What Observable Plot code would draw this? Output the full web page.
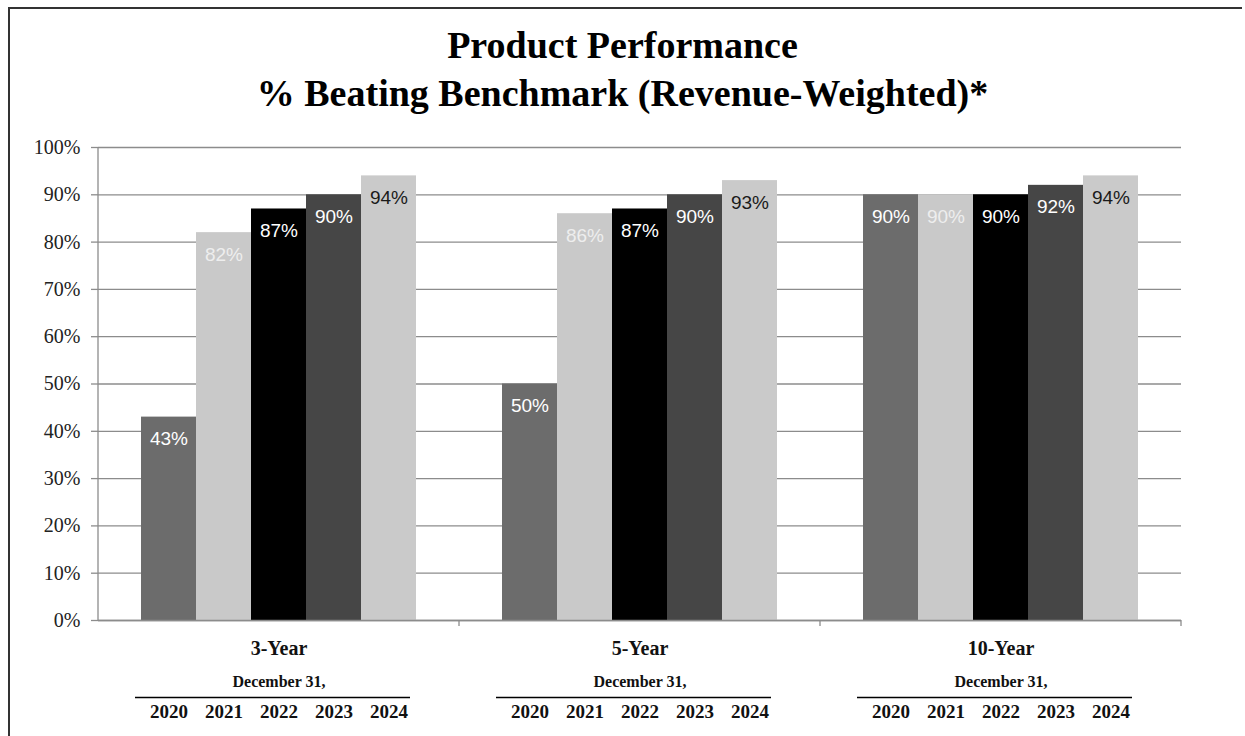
<!DOCTYPE html>
<html>
<head>
<meta charset="utf-8">
<script src="https://cdn.jsdelivr.net/npm/d3@7"></script>
<script src="https://cdn.jsdelivr.net/npm/@observablehq/plot@0.6"></script>
<style>
  body { margin: 0; background: #fff; }
  #wrap { position: relative; width: 1245px; height: 736px; overflow: hidden; font-family: "Liberation Serif", "Times New Roman", serif; background: #fff; }
  #border { position: absolute; left: 8px; top: 7px; width: 1232px; height: 760px; border-top: 2px solid #333; border-left: 2px solid #333; pointer-events: none; }
  #titles { position: relative; height: 120px; }
  .t { position: absolute; left: 0; width: 1245px; text-align: center; font-weight: bold; font-size: 38px; line-height: 40px; color: #000; }
  #chart svg { display: block; }
</style>
</head>
<body>
<div id="wrap">
  <div id="titles">
    <div class="t" style="top:25px">Product Performance</div>
    <div class="t" style="top:73px">% Beating Benchmark (Revenue-Weighted)*</div>
  </div>
  <div id="chart"></div>
  <div id="border"></div>
</div>
<script>
// ---- data ----
const groups = ["3-Year", "5-Year", "10-Year"];
const years = ["2020", "2021", "2022", "2023", "2024"];
const values3 = [43, 82, 87, 90, 94];
const values5 = [50, 86, 87, 90, 93];
const values10 = [90, 90, 90, 92, 94];
const yTicks = [0, 10, 20, 30, 40, 50, 60, 70, 80, 90, 100];
const subLabel = "December 31,";
const barColors = ["#6c6c6c", "#c9c9c9", "#000000", "#464646", "#cacaca"];
const labelColors = ["#ffffff", "#eeeeee", "#ffffff", "#ffffff", "#1a1a1a"];

const seriesByGroup = [values3, values5, values10];
const data = [];
groups.forEach((g, gi) => years.forEach((yr, yi) => data.push({group: g, year: yr, value: seriesByGroup[gi][yi]})));

const serif = "'Liberation Serif', 'Times New Roman', serif";
const sans = "'Liberation Sans', Lato, sans-serif";

const labelMarks = years.map((yr, i) =>
  Plot.text(data.filter(d => d.year === yr), {
    fx: "group", x: "year", y: "value",
    text: d => d.value + "%",
    dy: 22, lineAnchor: "middle",
    fill: labelColors[i], fontSize: 19, fontFamily: sans
  })
);

const chart = Plot.plot({
  width: 1245,
  height: 616,
  marginTop: 27,
  marginBottom: 116,
  marginLeft: 97,
  marginRight: 63,
  style: {fontFamily: serif, background: "transparent", color: "#111"},
  fx: {domain: groups, padding: 0, axis: null},
  x: {domain: years, paddingInner: 0, paddingOuter: 0.76, axis: null},
  y: {domain: [0, 100], axis: null},
  color: {type: "ordinal", domain: years, range: barColors},
  marks: [
    Plot.gridY(yTicks, {stroke: "#8c8c8c", strokeOpacity: 1, strokeWidth: 1.3}),
    Plot.axisY(yTicks, {
      label: null,
      tickFormat: d => d + "%", tickSize: 7, tickPadding: 11,
      fontSize: 20, fontFamily: serif, stroke: "#8c8c8c", fill: "#222", strokeWidth: 1.3
    }),
    Plot.barY(data, {fx: "group", x: "year", y: "value", fill: "year"}),
    ...labelMarks,
    Plot.ruleY([0], {stroke: "#8c8c8c", strokeWidth: 1.3}),
    Plot.text(groups, {fx: d => d, text: d => d, frameAnchor: "bottom", dy: 28, lineAnchor: "middle",
      fontWeight: "bold", fontSize: 20, fontFamily: serif, fill: "#111"}),
    Plot.text(groups, {fx: d => d, text: () => subLabel, frameAnchor: "bottom", dy: 61, lineAnchor: "middle",
      fontWeight: "bold", fontSize: 16, fontFamily: serif, fill: "#111"}),
    Plot.ruleY(groups, {fx: d => d, y: () => 0, x1: () => years[0], x2: () => years[years.length - 1],
      dy: 77, dx: -6, stroke: "#000", strokeWidth: 1.5}),
    Plot.text(data, {fx: "group", x: "year", text: "year", frameAnchor: "bottom", dy: 91, lineAnchor: "middle",
      fontWeight: "bold", fontSize: 19, fontFamily: serif, fill: "#111"})
  ]
});

// axis line and category dividers, positioned with the plot's own scales
const fx = chart.scale("fx");
const ys = chart.scale("y");
const svg = d3.select(chart);
const y0 = ys.apply(0), y100 = ys.apply(100);
svg.append("line")
  .attr("x1", fx.apply(groups[0])).attr("x2", fx.apply(groups[0]))
  .attr("y1", y100).attr("y2", y0)
  .attr("stroke", "#8c8c8c").attr("stroke-width", 1.3);
groups.forEach(g => {
  const xr = fx.apply(g) + fx.bandwidth;
  svg.append("line")
    .attr("x1", xr).attr("x2", xr)
    .attr("y1", y0).attr("y2", y0 + 6)
    .attr("stroke", "#8c8c8c").attr("stroke-width", 1.3);
});

document.getElementById("chart").appendChild(chart);
</script>
</body>
</html>
